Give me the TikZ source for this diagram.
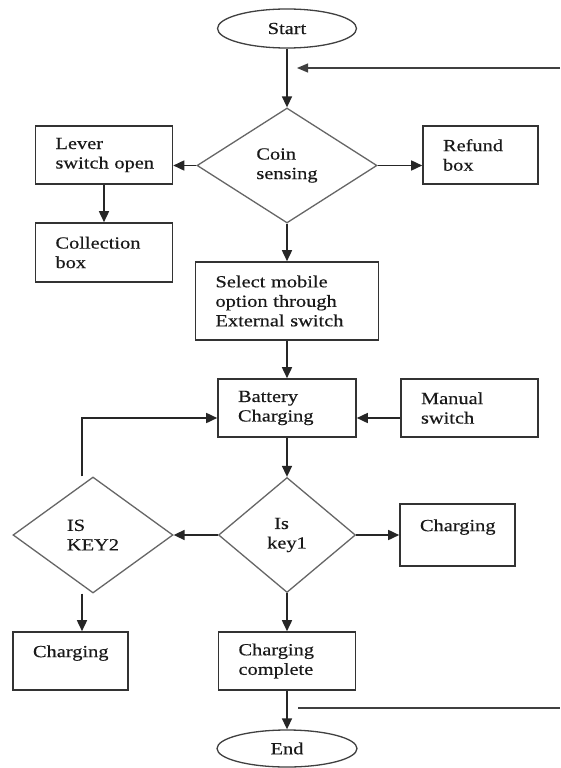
\documentclass[tikz,border=0pt]{standalone}
\usepackage{fontspec}
\setmainfont{Liberation Serif}[FakeStretch=1.2,FakeBold=0.4]
\usetikzlibrary{shapes.geometric,arrows.meta,calc}
\begin{document}
\begin{tikzpicture}[x=1pt,y=-1pt,
  every node/.style={font=\fontsize{17}{19.5}\selectfont, text=black!90},
  box/.style={draw=black!80, line width=1.6pt, rectangle, align=left, inner xsep=20pt, inner ysep=0pt},
  dia/.style={draw=black!60, line width=1.3pt, diamond, inner sep=0pt, align=left},
  term/.style={draw=black!75, line width=1.3pt, ellipse, inner sep=0pt},
  arr/.style={-{Triangle[length=11pt,width=10pt]}, line width=1.6pt, draw=black!85},
  fb/.style={line width=1.2pt, draw=black!75}]
\fill[white] (0,0) rectangle (560,768);
\useasboundingbox (0,0) rectangle (560,768);

% terminals
\node[term, minimum width=139pt, minimum height=39pt] (start) at (287,28.5) {Start};
\node[term, minimum width=140pt, minimum height=37pt] (end) at (287,748.5) {End};

% decisions
\node[dia, minimum width=180pt, minimum height=115pt] (coin) at (287,165.5) {Coin\\sensing};
\node[dia, minimum width=137pt, minimum height=115pt] (key1) at (287,535) {\hspace*{7pt}Is\\key1};
\node[dia, minimum width=160pt, minimum height=116pt] (key2) at (93,535) {IS\\KEY2};

% boxes
\node[box, text width=97pt, minimum height=58pt] (lever) at (104,155) {Lever\\\mbox{switch open}};
\node[box, text width=75pt, minimum height=58pt] (refund) at (480.5,155) {Refund\\box};
\node[box, text width=97pt, minimum height=59pt] (collection) at (104,252.5) {Collection\\box};
\node[box, text width=143pt, minimum height=78pt] (select) at (287,301) {\mbox{Select mobile}\\\mbox{option through}\\\mbox{External switch}};
\node[box, text width=98pt, minimum height=58pt] (battery) at (287,408) {Battery\\Charging};
\node[box, text width=97pt, minimum height=58pt] (manual) at (469.5,408) {Manual\\switch};
\node[box, text width=75pt, minimum height=62pt] (chargeR) at (457.5,535) {Charging\\\mbox{}};
\node[box, text width=75pt, minimum height=58pt] (chargeL) at (70.5,661) {Charging\\\mbox{}};
\node[box, text width=97pt, minimum height=58pt] (complete) at (287,661) {Charging\\complete};

% feedback coordinates
\coordinate (fbtopR) at (560,68);
\coordinate (fbtopL) at (297,68);
\coordinate (fbbotL) at (298,708);
\coordinate (fbbotR) at (560,708);
\coordinate (k2t) at ($(key2.north)+(-11,0)$);
\coordinate (k2b) at ($(key2.south)+(-11,0)$);

% connectors
\draw[arr] (start.south) -- (coin.north);
\draw[fb,-{Triangle[length=11pt,width=9pt]}] (fbtopR) -- (fbtopL);
\draw[arr] (coin.west) -- (lever.east |- coin.west);
\draw[arr] (coin.east) -- (refund.west |- coin.east);
\draw[arr] (lever.south) -- (collection.north);
\draw[arr] (coin.south) -- (select.north);
\draw[arr] (select.south) -- (battery.north);
\draw[arr] ($(manual.west)+(0,10)$) -- ($(battery.east)+(0,10)$);
\draw[arr] (k2t) |- ($(battery.west)+(0,10)$);
\draw[arr] (battery.south) -- (key1.north);
\draw[arr] (key1.west) -- (key2.east);
\draw[arr] (key1.east) -- (chargeR.west);
\draw[arr] (k2b) -- (k2b |- chargeL.north);
\draw[arr] (key1.south) -- (complete.north);
\draw[arr] (complete.south) -- (end.north);
\draw[fb] (fbbotL) -- (fbbotR);
\end{tikzpicture}
\end{document}
